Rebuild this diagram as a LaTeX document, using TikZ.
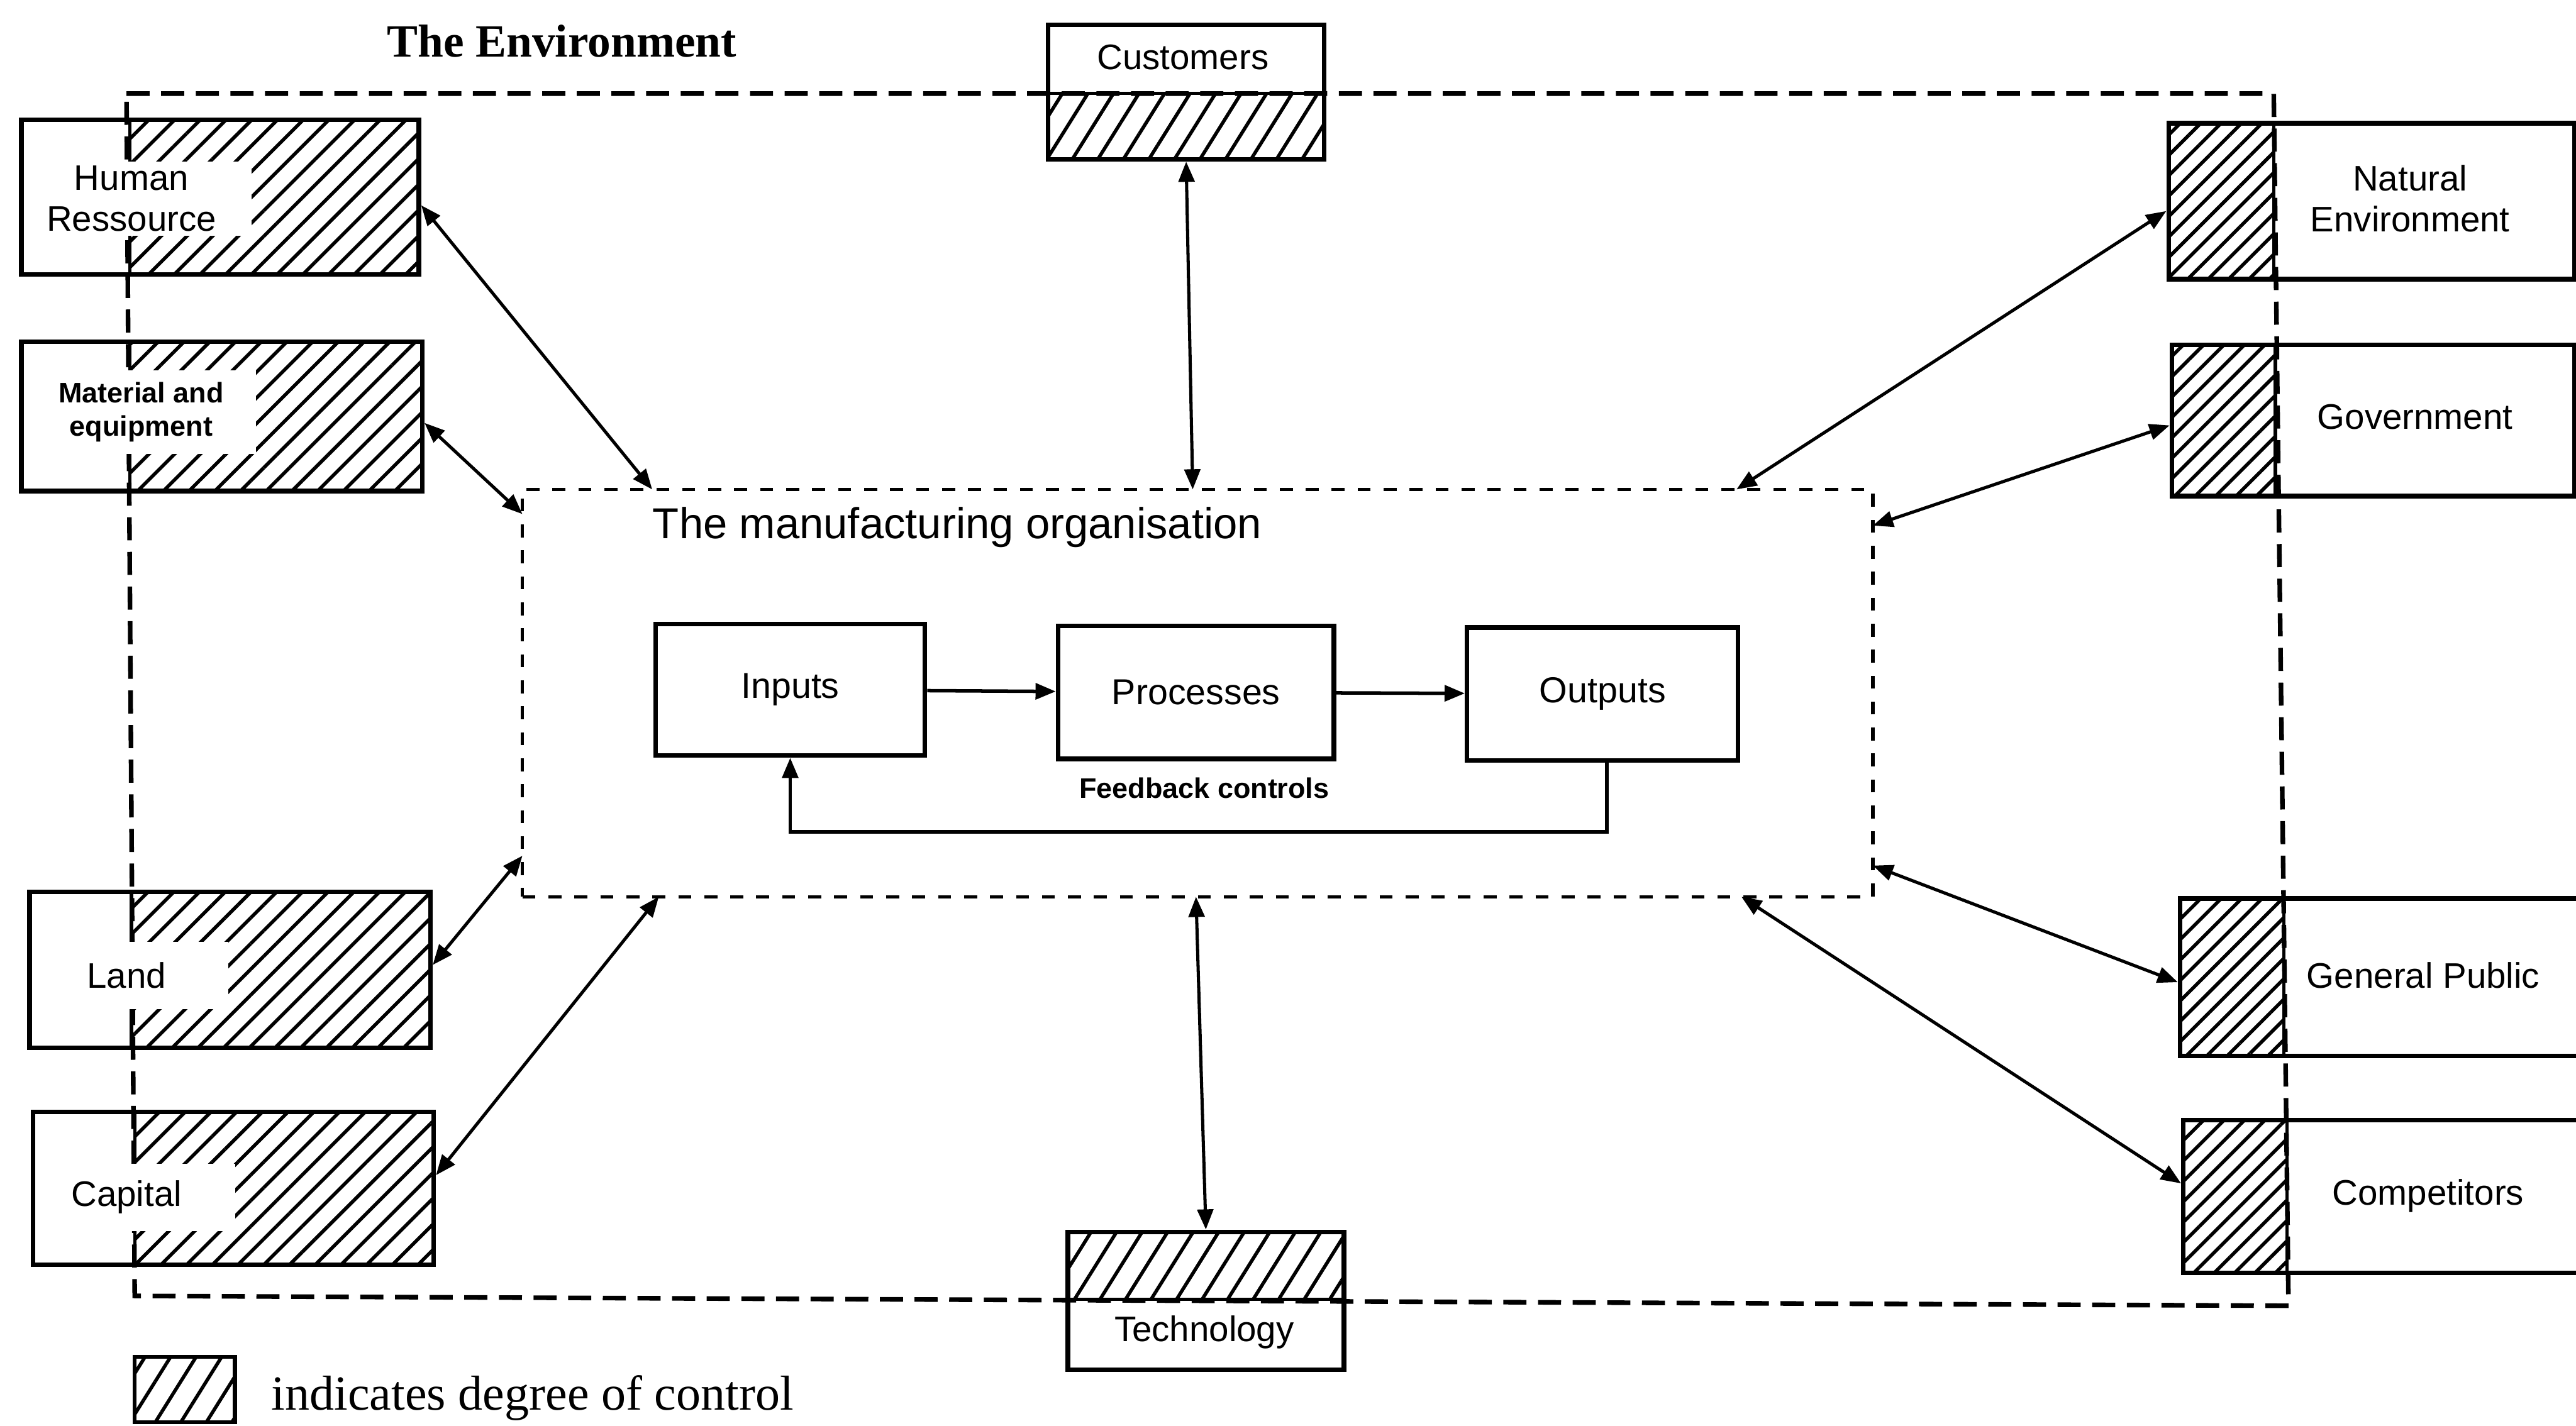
\documentclass[tikz,border=0pt]{standalone}
\usepackage{fontspec}
\setmainfont{Liberation Serif}
\setsansfont{Liberation Sans}
\usetikzlibrary{arrows.meta,patterns.meta,fit}
\begin{document}
\begin{tikzpicture}[x=0.02cm,y=-0.02cm,
  lbl/.style={font=\sffamily\fontsize{12.3}{14.2}\selectfont, align=center, inner sep=0pt},
  smallbold/.style={font=\sffamily\bfseries\fontsize{9.8}{11.5}\selectfont, align=center, inner sep=0pt},
  frame/.style={draw, line width=1.6pt, inner sep=0pt},
  hatchL/.style={draw, line width=1.1pt, pattern={Lines[angle=45,distance=6.3pt,line width=1.2pt]}},
  hatchR/.style={draw, line width=1.1pt, pattern={Lines[angle=45,distance=5pt,line width=1.2pt]}},
  hatchS/.style={draw, line width=1.1pt, pattern={Lines[angle=58,distance=7.5pt,line width=1.2pt]}},
  envline/.style={line width=1.6pt, dash pattern=on 8pt off 4pt},
  orgline/.style={draw, line width=1.1pt, dash pattern=on 4.5pt off 4.5pt, inner sep=0pt},
  procbox/.style={draw, line width=1.6pt, inner sep=0pt, font=\sffamily\fontsize{12.5}{14}\selectfont},
  dbl/.style={line width=1.1pt, arrows={Triangle[length=7pt,width=5.5pt]-Triangle[length=7pt,width=5.5pt]}},
  flow/.style={line width=1.2pt, -{Triangle[length=7pt,width=5.5pt]}},
]
\useasboundingbox (0,0) rectangle (1568,868);
\fill[white] (0,0) rectangle (1568,868);

% environment boundary
\draw[envline] (77,57) -- (1384,57) -- (1393,795) -- (82,789) -- cycle;
\node[font=\rmfamily\bfseries\fontsize{16}{18}\selectfont, inner sep=0pt] (envtitle) at (342,25) {The Environment};

% the manufacturing organisation
\node[orgline, fit={(318,298) (1140,546)}] (org) {};
\node[anchor=west, font=\sffamily\fontsize{15}{17}\selectfont, inner sep=0pt] (orgtitle) at (397,321) {The manufacturing organisation};

\node[procbox, minimum width=3.28cm, minimum height=1.6cm] (inputs) at (481,420) {Inputs};
\node[procbox, minimum width=3.36cm, minimum height=1.62cm] (processes) at (728,421.5) {Processes};
\node[procbox, minimum width=3.3cm, minimum height=1.62cm] (outputs) at (975.5,422.5) {Outputs};
\draw[flow] (inputs) -- (processes);
\draw[flow] (processes) -- (outputs);
\draw[flow] ([xshift=0.05cm]outputs.south) -- ++(0,42) -| (inputs.south);
\node[font=\sffamily\bfseries\fontsize{9.8}{11}\selectfont, inner sep=0pt] (fbk) at (733,480) {Feedback controls};

% left-hand resources
\draw[hatchL] (79,73) rectangle (255,167);
\node[lbl, fill=white, minimum width=2.92cm, minimum height=0.9cm] (hrtxt) at (80,121) {Human\\Ressource};
\node[frame, fit={(13,73) (255,167)}] (hr) {};

\draw[hatchL] (79,208) rectangle (257,299);
\node[smallbold, fill=white, minimum width=2.8cm, minimum height=1.02cm] (metxt) at (86,251) {Material and\\equipment};
\node[frame, fit={(13,208) (257,299)}] (me) {};

\draw[hatchL] (80,543) rectangle (262,638);
\node[lbl, fill=white, minimum width=2.48cm, minimum height=0.82cm] (landtxt) at (77,594) {Land};
\node[frame, fit={(18,543) (262,638)}] (land) {};

\draw[hatchL] (82,677) rectangle (264,770);
\node[lbl, fill=white, minimum width=2.64cm, minimum height=0.82cm] (captxt) at (77,729) {Capital};
\node[frame, fit={(20,677) (264,770)}] (cap) {};

% top and bottom
\draw[hatchS] (638,57) rectangle (806,97);
\node[lbl] (custtxt) at (720,35) {Customers};
\node[frame, fit={(638,15) (806,97)}] (cust) {};

\draw[hatchS] (650,750) rectangle (818,791);
\node[lbl] (techtxt) at (733,811) {Technology};
\node[frame, fit={(650,750) (818,834)}] (tech) {};

% right-hand stakeholders
\draw[hatchR] (1320,75) rectangle (1384,170);
\node[lbl] (netxt) at (1467,121) {Natural\\Environment};
\node[frame, fit={(1320,75) (1567,170)}] (ne) {};

\draw[hatchR] (1322,210) rectangle (1385,302);
\node[lbl] (govtxt) at (1470,254) {Government};
\node[frame, fit={(1322,210) (1567,302)}] (gov) {};

\draw[hatchR] (1327,547) rectangle (1390,643);
\node[lbl] (gptxt) at (1475,594) {General Public};
\node[frame, fit={(1327,547) (1580,643)}] (gp) {};

\draw[hatchR] (1329,682) rectangle (1392,775);
\node[lbl] (comptxt) at (1478,728) {Competitors};
\node[frame, fit={(1329,682) (1580,775)}] (comp) {};

% attachment points on the organisation boundary
\coordinate (o1) at (397,298);
\coordinate (o2) at (318,313);
\coordinate (o3) at (726,298);
\coordinate (o4) at (1057,298);
\coordinate (o5) at (1140,320);
\coordinate (o6) at (318,521);
\coordinate (o7) at (401,546);
\coordinate (o8) at (728,546);
\coordinate (o9) at (1140,527);
\coordinate (o10) at (1060,546);

\draw[dbl] ([yshift=-0.1cm]hr.east) -- (o1);
\draw[dbl] ([yshift=-0.08cm]me.east) -- (o2);
\draw[dbl] (cust.south) -- (o3);
\draw[dbl] ([yshift=-0.12cm]ne.west) -- (o4);
\draw[dbl] ([yshift=-0.06cm]gov.west) -- (o5);
\draw[dbl] ([yshift=0.06cm]land.east) -- (o6);
\draw[dbl] ([yshift=0.16cm]cap.east) -- (o7);
\draw[dbl] (tech.north) -- (o8);
\draw[dbl] ([yshift=-0.06cm]gp.west) -- (o9);
\draw[dbl] ([yshift=0.16cm]comp.west) -- (o10);

% legend
\draw[hatchS, line width=1.4pt] (82,826) rectangle (143,866);
\node[anchor=west, font=\rmfamily\fontsize{17}{19}\selectfont, inner sep=0pt] (legend) at (165,851) {indicates degree of control};
\end{tikzpicture}
\end{document}
